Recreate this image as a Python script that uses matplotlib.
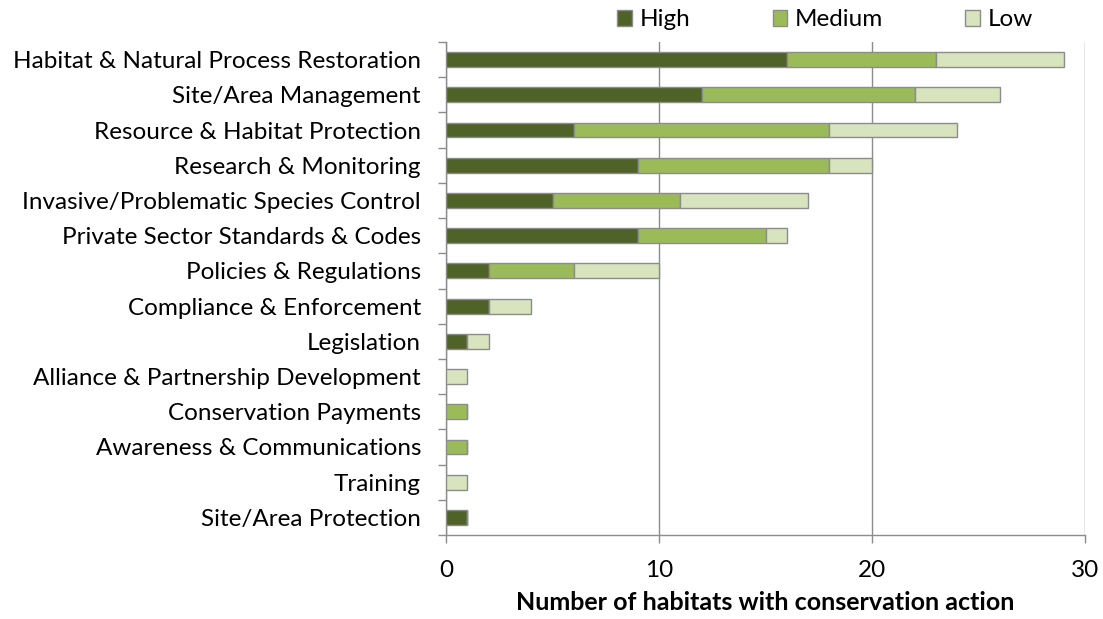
import matplotlib
matplotlib.use("Agg")
import matplotlib.pyplot as plt
import numpy as np

categories = [
    "Habitat & Natural Process Restoration",
    "Site/Area Management",
    "Resource & Habitat Protection",
    "Research & Monitoring",
    "Invasive/Problematic Species Control",
    "Private Sector Standards & Codes",
    "Policies & Regulations",
    "Compliance & Enforcement",
    "Legislation",
    "Alliance & Partnership Development",
    "Conservation Payments",
    "Awareness & Communications",
    "Training",
    "Site/Area Protection",
]
high = [16, 12, 6, 9, 5, 9, 2, 2, 1, 0, 0, 0, 0, 1]
medium = [7, 10, 12, 9, 6, 6, 4, 0, 0, 0, 1, 1, 0, 0]
low = [6, 4, 6, 2, 6, 1, 4, 2, 1, 1, 0, 0, 1, 0]
series_names = ["High", "Medium", "Low"]
colors = ["#4F6228", "#9BBB59", "#D7E4BD"]
xticks = [0, 10, 20, 30]

plt.rcParams['font.family'] = ['Lato', 'DejaVu Sans']

fig = plt.figure(figsize=(11.03, 6.19), dpi=100)
ax = fig.add_axes([446/1103, 1 - 535/619, (1085-446)/1103, (535-42)/619])

n = len(categories)
y = np.arange(n)[::-1]
left = np.zeros(n)
for vals, name, c in zip([high, medium, low], series_names, colors):
    v = np.array(vals, dtype=float)
    ax.barh(y, v, left=left, height=0.42, color=c, edgecolor="#8C8C8C",
            linewidth=1.0, label=name, zorder=3)
    left += v

ax.set_xlim(0, 30)
ax.set_ylim(-0.5, n - 0.5)
ax.set_xticks(xticks)
ax.set_xticklabels([str(t) for t in xticks], fontsize=17.5)
ax.set_yticks(y)
ax.set_yticklabels(categories, fontsize=17.5)
ax.tick_params(axis='y', length=0, pad=18)
ax.set_yticks(np.arange(-0.5, n, 1), minor=True)
ax.tick_params(axis='y', which='minor', length=6, color="#8C8C8C", width=1)
ax.tick_params(axis='x', length=6, color="#8C8C8C", width=1, pad=12)
ax.grid(axis='x', color="#8C8C8C", linewidth=1, zorder=0)
for s in ["top", "right"]:
    ax.spines[s].set_visible(False)
for s in ["left", "bottom"]:
    ax.spines[s].set_color("#8C8C8C")
    ax.spines[s].set_linewidth(1)

ax.set_xlabel("Number of habitats with conservation action", fontsize=18,
              fontweight="bold", labelpad=7)

leg = fig.legend(loc="upper center", bbox_to_anchor=(825/1103, 1.02), ncol=3,
                 frameon=False, fontsize=17.5, handlelength=0.6, handleheight=0.6,
                 columnspacing=3.4, handletextpad=0.3)

fig.savefig("out.png", dpi=100)
